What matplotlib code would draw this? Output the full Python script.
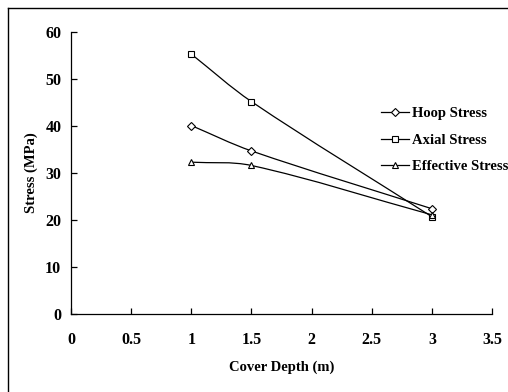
import numpy as np
import matplotlib
matplotlib.use("Agg")
import matplotlib.pyplot as plt
from matplotlib.path import Path
from matplotlib.patches import PathPatch
from matplotlib.lines import Line2D

depth = [1.0, 1.5, 3.0]
hoop = [40.1, 34.7, 22.4]
axial = [55.3, 45.2, 20.7]
effective = [32.3, 31.6, 21.1]
series_names = ["Hoop Stress", "Axial Stress", "Effective Stress"]
markers = ["D", "s", "^"]
x_ticks = [0, 0.5, 1, 1.5, 2, 2.5, 3, 3.5]
x_tick_labels = ["0", "0.5", "1", "1.5", "2", "2.5", "3", "3.5"]
y_ticks = [0, 10, 20, 30, 40, 50, 60]

plt.rcParams['font.family'] = ['Liberation Serif', 'DejaVu Serif']
plt.rcParams['font.weight'] = 'bold'

fig = plt.figure(figsize=(5.08, 3.92), dpi=100)
W, H = 508, 392
ax = fig.add_axes([71 / W, 1 - 314 / H, (492 - 71) / W, (314 - 32) / H])


def smooth_path(ax, xs, ys):
    # Excel-like smoothing: tangents scaled by relative segment length (pixel space)
    pts = np.column_stack([xs, ys]).astype(float)
    pix = ax.transData.transform(pts)
    n = len(pts)
    d = [np.hypot(*(pix[i + 1] - pix[i])) for i in range(n - 1)]
    verts = [pts[0]]
    codes = [Path.MOVETO]
    for i in range(n - 1):
        p1, p2 = pts[i], pts[i + 1]
        if i == 0:
            c1 = p1 + (p2 - p1) / 3.0
        else:
            r = d[i] / (d[i - 1] + d[i])
            c1 = p1 + (p2 - pts[i - 1]) * r / 3.0
        if i == n - 2:
            c2 = p2 - (p2 - p1) / 3.0
        else:
            r = d[i] / (d[i] + d[i + 1])
            c2 = p2 - (pts[i + 2] - p1) * r / 3.0
        verts += [c1, c2, p2]
        codes += [Path.CURVE4] * 3
    return Path(np.array(verts), codes)


ax.set_xlim(0, 3.5)
ax.set_ylim(0, 60)

handles = []
for vals, name, mk in zip([hoop, axial, effective], series_names, markers):
    patch = PathPatch(smooth_path(ax, depth, vals), facecolor='none', edgecolor='black', lw=0.9,
                      transform=ax.transData, zorder=2)
    ax.add_patch(patch)
    ms = 4 if mk == 'D' else 5
    ax.plot(depth, vals, linestyle='none', marker=mk, markersize=ms, markerfacecolor='white',
            markeredgecolor='black', markeredgewidth=0.8, zorder=3)
    handles.append(Line2D([], [], color='black', lw=0.9, marker=mk, markersize=ms,
                          markerfacecolor='white', markeredgecolor='black', markeredgewidth=0.8))

ax.set_xticks(x_ticks)
ax.set_xticklabels(x_tick_labels)
ax.set_yticks(y_ticks)
ax.spines['top'].set_visible(False)
ax.spines['right'].set_visible(False)
ax.spines['left'].set_linewidth(0.9)
ax.spines['bottom'].set_linewidth(0.9)
ax.tick_params(axis='both', direction='in', length=4, width=0.9, labelsize=11.5)
ax.tick_params(axis='x', pad=13)
ax.tick_params(axis='y', pad=7)
for lab in ax.get_xticklabels() + ax.get_yticklabels():
    lab.set_fontweight('bold')

ax.set_xlabel("Cover Depth (m)", fontsize=10.5, fontweight='bold', labelpad=9)
ax.set_ylabel("Stress (MPa)", fontsize=10.5, fontweight='bold', labelpad=5)

leg = fig.legend(handles, series_names, loc='upper left', bbox_to_anchor=(381 / W, 1 - 107 / H),
                 frameon=False, fontsize=10.5, handlelength=1.9, handletextpad=0.25,
                 labelspacing=0.92, borderpad=0, borderaxespad=0)
for t in leg.get_texts():
    t.set_fontweight('bold')

# outer frame (left and top edges visible)
fig.add_artist(Line2D([7.5 / W, 7.5 / W], [0, 1 - 7.5 / H], transform=fig.transFigure, color='black', lw=1))
fig.add_artist(Line2D([7.5 / W, 1], [1 - 7.5 / H, 1 - 7.5 / H], transform=fig.transFigure, color='black', lw=1))

fig.savefig("out.png", dpi=100)
